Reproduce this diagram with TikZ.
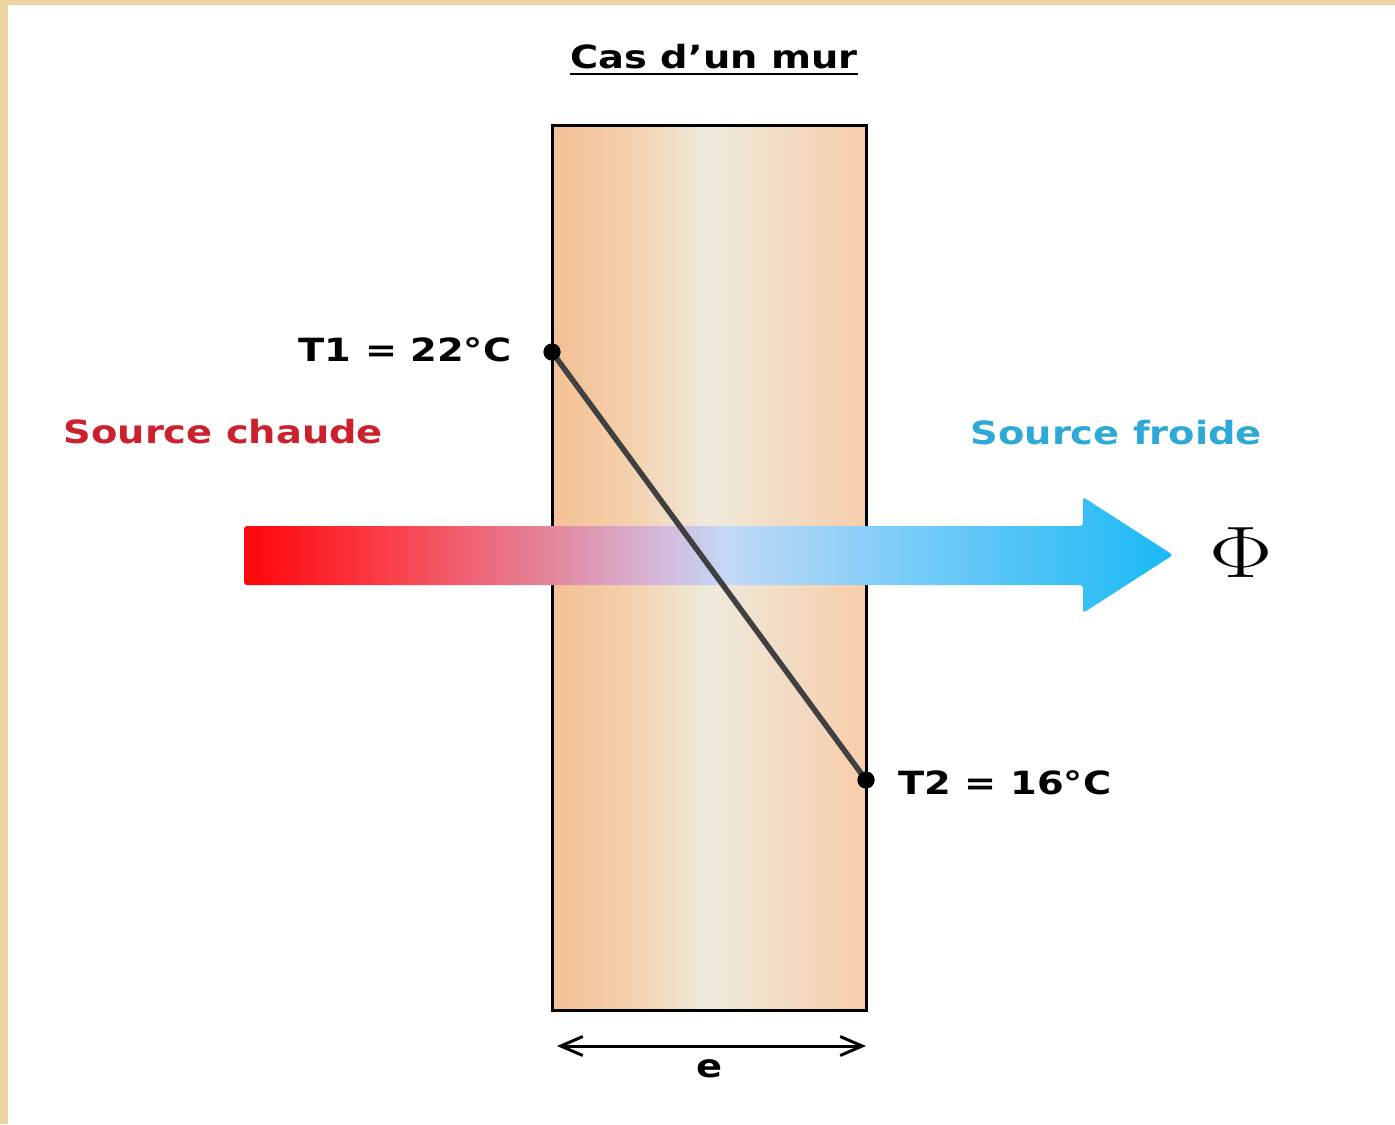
\documentclass[tikz,border=0pt]{standalone}
\usepackage{fontspec}
\newfontfamily\labfont[FakeStretch=1.2]{DejaVu Sans}
\usetikzlibrary{arrows.meta}
\definecolor{fond}{RGB}{236,212,160}
\definecolor{chaud}{RGB}{205,32,45}
\definecolor{froid}{RGB}{45,168,215}
\definecolor{trait}{RGB}{64,64,64}
\definecolor{murA}{RGB}{245,192,148}
\definecolor{murB}{RGB}{243,208,172}
\definecolor{murC}{RGB}{238,234,220}
\definecolor{murD}{RGB}{243,220,196}
\definecolor{murE}{RGB}{248,205,170}
\definecolor{fluxA}{RGB}{255,5,10}
\definecolor{fluxB}{RGB}{250,65,75}
\definecolor{fluxC}{RGB}{228,130,152}
\definecolor{fluxD}{RGB}{214,180,214}
\definecolor{fluxE}{RGB}{195,216,246}
\definecolor{fluxF}{RGB}{125,205,248}
\definecolor{fluxG}{RGB}{25,185,245}
\pgfdeclarehorizontalshading{murshade}{100bp}{color(0bp)=(murA); color(25bp)=(murA); color(37bp)=(murB); color(50bp)=(murC); color(62bp)=(murD); color(75bp)=(murE); color(100bp)=(murE)}
\pgfdeclarehorizontalshading{fluxshade}{100bp}{color(0bp)=(fluxA); color(25bp)=(fluxA); color(33bp)=(fluxB); color(41bp)=(fluxC); color(47bp)=(fluxD); color(51bp)=(fluxE); color(60bp)=(fluxF); color(75bp)=(fluxG); color(100bp)=(fluxG)}

\begin{document}
\begin{tikzpicture}[x=0.1mm, y=-0.1mm, >={Straight Barb[length=2.2mm,width=1.9mm]},
    lab/.style={font=\labfont\bfseries\fontsize{9.1}{11}\selectfont, inner sep=0pt},
    point/.style={circle, fill=black, inner sep=0pt, minimum size=1.7mm}]
    \useasboundingbox (0,0) rectangle (1395,1124);
    % fond
    \fill[fond] (0,0) rectangle (1395,1124);
    \fill[white] (8,5) rectangle (1395,1124);
    % titre
    \node[lab, anchor=base] (titre) at (714,68) {Cas d’un mur};
    \draw[line width=0.25mm] ([yshift=-0.6mm]titre.base west) -- ([yshift=-0.6mm]titre.base east);
    % mur
    \shadedraw[shading=murshade, line width=0.3mm] (552,125) rectangle (866,1010);
    % flux de chaleur
    \shade[shading=fluxshade, rounded corners=0.3mm] (1083,585) -- (244,585) -- (244,526) -- (1083,526)
        -- (1083,497) -- (1173,555) -- (1083,613) -- cycle;
    \node[anchor=west, inner sep=0pt] (phi) at (1209,553) {\fontsize{22}{22}\selectfont\scalebox{1.3}[1]{$\Phi$}};
    % profil de temperature
    \node[point] (T1) at (552,352) {};
    \node[point] (T2) at (866,780) {};
    \draw[trait, line width=0.55mm] (T1.center) -- (T2.center);
    \node[point] at (T1) {};
    \node[point] at (T2) {};
    \node[lab, anchor=base east] (T1lab) at (512,361) {T1 = 22°C};
    \node[lab, anchor=base west] (T2lab) at (898,794) {T2 = 16°C};
    % sources
    \node[lab, chaud, anchor=base west] (chaude) at (63,443) {Source chaude};
    \node[lab, froid, anchor=base west] (froide) at (970,444) {Source froide};
    % epaisseur
    \coordinate (eg) at (557,1046);
    \coordinate (ed) at (866,1046);
    \draw[<->, line width=0.3mm] (eg) -- (ed);
    \node[lab] (elab) at (710,1069) {e};
\end{tikzpicture}
\end{document}
